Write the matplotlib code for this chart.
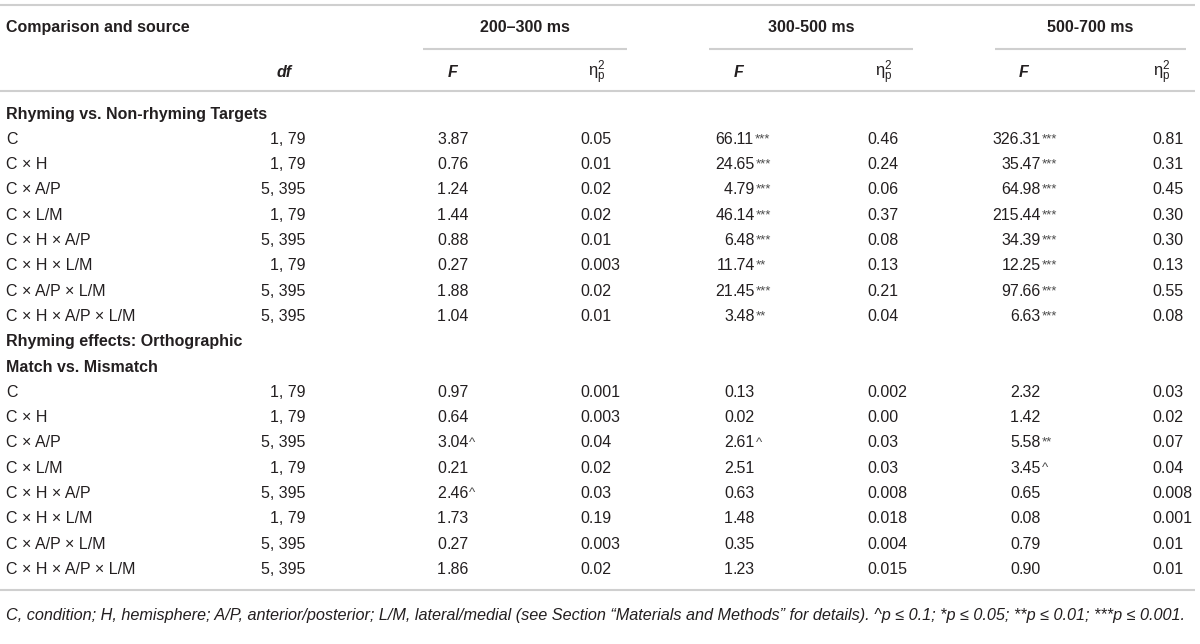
import matplotlib
matplotlib.use('Agg')
from matplotlib import pyplot as plt

plt.rcParams['font.family'] = ['Liberation Sans', 'DejaVu Sans']
plt.rcParams['mathtext.fontset'] = 'custom'
plt.rcParams['mathtext.rm'] = 'Liberation Sans'
plt.rcParams['mathtext.it'] = 'Liberation Sans:italic'
plt.rcParams['mathtext.bf'] = 'Liberation Sans:bold'

# ---- table content ----
windows = ['200–300 ms', '300-500 ms', '500-700 ms']
section_rhyme = ['Rhyming vs. Non-rhyming Targets']
section_ortho = ['Rhyming effects: Orthographic', 'Match vs. Mismatch']
sources = ['C', 'C × H', 'C × A/P', 'C × L/M', 'C × H × A/P', 'C × H × L/M',
           'C × A/P × L/M', 'C × H × A/P × L/M']
dfs = ['1, 79', '1, 79', '5, 395', '1, 79', '5, 395', '1, 79', '5, 395', '5, 395']

rhyme_f_200 = ['3.87', '0.76', '1.24', '1.44', '0.88', '0.27', '1.88', '1.04']
rhyme_eta_200 = ['0.05', '0.01', '0.02', '0.02', '0.01', '0.003', '0.02', '0.01']
rhyme_f_300 = ['66.11***', '24.65***', '4.79***', '46.14***', '6.48***', '11.74**', '21.45***', '3.48**']
rhyme_eta_300 = ['0.46', '0.24', '0.06', '0.37', '0.08', '0.13', '0.21', '0.04']
rhyme_f_500 = ['326.31***', '35.47***', '64.98***', '215.44***', '34.39***', '12.25***', '97.66***', '6.63***']
rhyme_eta_500 = ['0.81', '0.31', '0.45', '0.30', '0.30', '0.13', '0.55', '0.08']

ortho_f_200 = ['0.97', '0.64', '3.04^', '0.21', '2.46^', '1.73', '0.27', '1.86']
ortho_eta_200 = ['0.001', '0.003', '0.04', '0.02', '0.03', '0.19', '0.003', '0.02']
ortho_f_300 = ['0.13', '0.02', '2.61^', '2.51', '0.63', '1.48', '0.35', '1.23']
ortho_eta_300 = ['0.002', '0.00', '0.03', '0.03', '0.008', '0.018', '0.004', '0.015']
ortho_f_500 = ['2.32', '1.42', '5.58**', '3.45^', '0.65', '0.08', '0.79', '0.90']
ortho_eta_500 = ['0.03', '0.02', '0.07', '0.04', '0.008', '0.001', '0.01', '0.01']

footnote = ('C, condition; H, hemisphere; A/P, anterior/posterior; L/M, lateral/medial '
            '(see Section “Materials and Methods” for details). ^p ≤ 0.1; *p ≤ 0.05; '
            '**p ≤ 0.01; ***p ≤ 0.001.')

# ---- layout ----
W, H = 1200, 644
TXT = '#231f20'
RULE = '#cfcfcf'
FS = 11.5
ROW = 25.3
Y0 = 113

X_LABEL = 6
X_DF = 305
X_DF_HEAD = 284
F_DEC = [446, 733, 1019]        # decimal point of the F columns
ETA_LEFT = [580, 867, 1152]
F_HEAD = [453, 739, 1024]
ETA_HEAD = [597, 884, 1162]
GROUP_SPAN = [(423, 627), (709, 913), (995, 1186)]

fig = plt.figure(figsize=(W / 100, H / 100), dpi=100)
ax = fig.add_axes([0, 0, 1, 1])
ax.set_xlim(0, W)
ax.set_ylim(H, 0)
ax.axis('off')


def rule(y, x0=0, x1=1195):
    ax.plot([x0, x1], [y, y], color=RULE, lw=1.5, solid_capstyle='butt')


def cell(x, y, s, **kw):
    kw.setdefault('fontsize', FS)
    kw.setdefault('color', TXT)
    return ax.text(x, y + 5.5, s, va='baseline', **kw)


def stat(x_dec, y, s):
    marks = s.lstrip('0123456789.')
    num = s[:len(s) - len(marks)]
    whole, frac = num.split('.')
    cell(x_dec, y, whole, ha='right')
    t = cell(x_dec, y, '.' + frac, ha='left')
    if marks:
        ax.annotate(marks, xy=(1, 1), xycoords=t, xytext=(0.2, -1.0),
                    textcoords='offset points', ha='left', va='top',
                    fontsize=9.5, color='#4a4a4a')


# rules
rule(5)
for x0, x1 in GROUP_SPAN:
    rule(49, x0, x1)
rule(91)
rule(590)

# header
cell(X_LABEL, 26, 'Comparison and source', ha='left', fontweight='bold')
for (x0, x1), name in zip(GROUP_SPAN, windows):
    cell((x0 + x1) / 2, 26, name, ha='center', fontweight='bold')
cell(X_DF_HEAD, 71, 'df', ha='center', fontweight='bold', fontstyle='italic')
for xf, xe in zip(F_HEAD, ETA_HEAD):
    cell(xf, 71, 'F', ha='center', fontweight='bold', fontstyle='italic')
    cell(xe, 71, r'$\mathrm{\eta}^{2}_{\mathrm{p}}$', ha='center', fontsize=FS + 0.5)

blocks = [
    (section_rhyme, [rhyme_f_200, rhyme_f_300, rhyme_f_500],
     [rhyme_eta_200, rhyme_eta_300, rhyme_eta_500]),
    (section_ortho, [ortho_f_200, ortho_f_300, ortho_f_500],
     [ortho_eta_200, ortho_eta_300, ortho_eta_500]),
]

row = 0
for titles, f_cols, eta_cols in blocks:
    for title in titles:
        cell(X_LABEL, Y0 + row * ROW, title, ha='left', fontweight='bold')
        row += 1
    for i, src in enumerate(sources):
        y = Y0 + row * ROW
        cell(X_LABEL, y, src, ha='left')
        cell(X_DF, y, dfs[i], ha='right')
        for k in range(3):
            stat(F_DEC[k], y, f_cols[k][i])
            cell(ETA_LEFT[k], y, eta_cols[k][i], ha='left')
        row += 1

# footnote, sized to span the table width
note = ax.text(X_LABEL, 620, footnote, ha='left', va='baseline', fontsize=10,
               fontstyle='italic', color=TXT)
fig.canvas.draw()
bb = note.get_window_extent()
note.set_fontsize(10 * (1194 - X_LABEL) / bb.width)

fig.savefig('out.png', dpi=100)
